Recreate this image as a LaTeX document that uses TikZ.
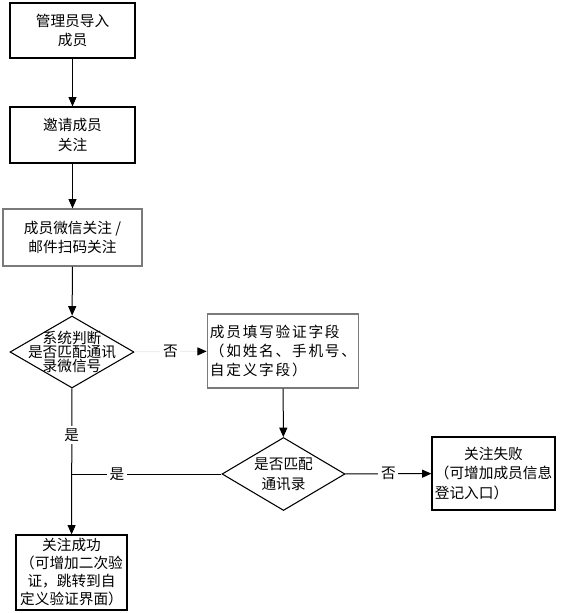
\documentclass[tikz,border=0pt]{standalone}
\usepackage{fontspec}
\setmainfont{Noto Sans CJK SC}
\newfontfamily\cjkwide[LetterSpace=12]{Noto Sans CJK SC}
\usetikzlibrary{positioning, arrows.meta, shapes.geometric}
\definecolor{boxgray}{HTML}{7A7A7A}
\definecolor{faintline}{HTML}{EEEEEE}

\begin{document}
\begin{tikzpicture}[
      x=0.75pt, y=-0.75pt,
      every node/.style={font=\fontsize{11}{14.5}\selectfont},
      boxsize/.style 2 args={minimum width=#1*0.75pt, minimum height=#2*0.75pt},
      stepbox/.style={draw, line width=0.9pt, inner sep=2pt, align=center},
      decision/.style={draw, diamond, line width=0.8pt, inner sep=0pt},
      flow/.style={line width=0.75pt, -{Triangle[length=7pt, width=6pt]}},
      lbl/.style={fill=white, inner sep=2pt},
    ]
    \useasboundingbox (0,0) rectangle (566,613);

    \node[stepbox, boxsize={125}{55}] (admin) at (72.5,30.5) {管理员导入\\成员};
    \node[stepbox, boxsize={125}{56}] (invite) at (72.5,135) {邀请成员\\关注};
    \node[stepbox, draw=boxgray, boxsize={139}{57}] (scan) at (72.5,237.5)
      {成员微信关注 /\\邮件扫码关注};

    % decisions: text set on top of the empty diamonds
    \node[decision, boxsize={124}{72}] (check) at (72,352) {};
    \node[align=center, font=\fontsize{11}{10.5}\selectfont] at (check) {系统判断\\是否匹配通讯\\录微信号};

    \node[stepbox, draw=boxgray, align=left, boxsize={142}{74}] (fill) at (283,351)
      {\cjkwide 成员填写验证字段\\\cjkwide （如姓名、手机号、\\\cjkwide 自定义字段）};

    \node[decision, boxsize={123}{73}] (match) at (283.5,474) {};
    \node[align=center, font=\fontsize{11}{15}\selectfont] at (match) {是否匹配\\通讯录};

    \node[stepbox, align=left, boxsize={123}{73}] (fail) at (493.5,473.5)
      {\hspace*{2em}关注失败\\（可增加成员信息\\登记入口）};
    \node[stepbox, boxsize={111}{75}, font=\fontsize{11}{13.5}\selectfont] (ok) at (71.5,572.5)
      {关注成功\\（可增加二次验\\证，跳转到自\\定义验证界面）};

    \coordinate (join) at (check |- match);

    \draw[flow] (admin) -- (invite);
    \draw[flow] (invite) -- (scan);
    \draw[flow] (scan) -- (check);
    \draw[flow, draw=faintline, -{Triangle[length=7pt, width=6pt, color=black]}]
      (check) -- node[lbl] {否} (fill);
    \draw[flow] (fill) -- (match);
    \draw[flow] (match) -- node[lbl] {否} (fail);
    \draw[flow] (check) -- node[lbl, pos=0.32] {是} (ok);
    \draw[line width=0.75pt] (match) -- node[lbl, pos=0.7] {是} (join);
  \end{tikzpicture}
\end{document}
